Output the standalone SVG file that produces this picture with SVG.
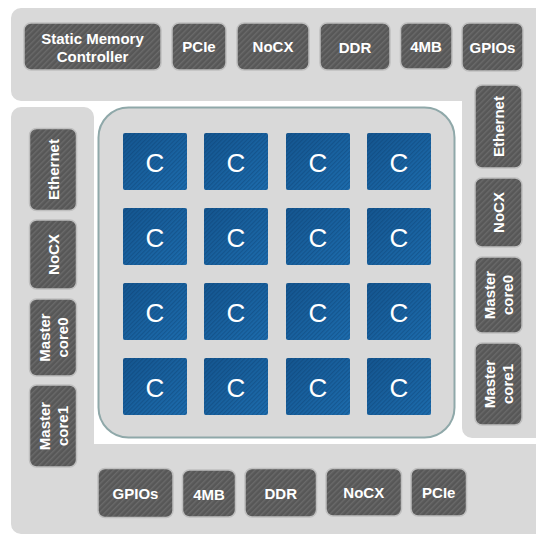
<svg xmlns="http://www.w3.org/2000/svg" width="536" height="534" viewBox="0 0 536 534">
<defs>
<pattern id="hatch" width="4" height="4" patternUnits="userSpaceOnUse" patternTransform="rotate(45)">
<rect width="4" height="4" fill="#575757"/>
<rect width="1.4" height="4" fill="#6a6a6a"/>
</pattern>
<linearGradient id="blueg" x1="0" y1="0" x2="1" y2="1">
<stop offset="0" stop-color="#145690"/>
<stop offset="1" stop-color="#1d6dae"/>
</linearGradient>
<pattern id="bhatch" width="3" height="3" patternUnits="userSpaceOnUse" patternTransform="rotate(45)">
<rect width="1.2" height="3" fill="#0a3a66" fill-opacity="0.35"/>
</pattern>
</defs>
<style>
.panel{fill:#d9d9d9}
.box{fill:url(#hatch);stroke:#bfbfbf;stroke-width:1.5}
.lbl{fill:#ffffff;font-family:"Liberation Sans",Arial,sans-serif;font-weight:bold;font-size:15px;text-anchor:middle}
.tile{fill:url(#blueg)}
.tileh{fill:url(#bhatch)}
.c{fill:#ffffff;font-family:"Liberation Sans",Arial,sans-serif;font-size:26px;text-anchor:middle}
</style>
<rect width="536" height="534" fill="#ffffff"/>
<g id="panels">
<path class="panel" d="M21 8H536V438H472A10 10 0 0 1 462 428V101H21A10 10 0 0 1 11 91V18A10 10 0 0 1 21 8Z"/>
<path class="panel" d="M21 107H84A10 10 0 0 1 94 117V444H536V534H21A10 10 0 0 1 11 524V117A10 10 0 0 1 21 107Z"/>
<rect x="98.5" y="107.5" width="356" height="330" rx="30" fill="#d9d9d9" stroke="#8fa8a9" stroke-width="2"/>
</g>
<g id="top-smc"><rect class="box" x="24" y="23" width="137" height="47" rx="7"/><text class="lbl" x="92.5" y="44">Static Memory</text><text class="lbl" x="92.5" y="62">Controller</text></g>
<g id="top-pcie"><rect class="box" x="172" y="23" width="54" height="47" rx="7"/><text class="lbl" x="199" y="52">PCIe</text></g>
<g id="top-nocx"><rect class="box" x="237" y="23" width="72" height="47" rx="7"/><text class="lbl" x="273" y="52">NoCX</text></g>
<g id="top-ddr"><rect class="box" x="320" y="23" width="70" height="47" rx="7"/><text class="lbl" x="355" y="53">DDR</text></g>
<g id="top-4mb"><rect class="box" x="400.5" y="23" width="51.5" height="46" rx="7"/><text class="lbl" x="426" y="52">4MB</text></g>
<g id="top-gpios"><rect class="box" x="462" y="23" width="61" height="48" rx="7"/><text class="lbl" x="492.5" y="53">GPIOs</text></g>

<g id="right-ethernet"><rect class="box" x="475" y="85" width="47" height="83" rx="7"/><text class="lbl" transform="translate(498.5 126.5) rotate(-90)" y="5.5">Ethernet</text></g>
<g id="right-nocx"><rect class="box" x="475" y="178" width="47" height="69" rx="7"/><text class="lbl" transform="translate(498.5 212.5) rotate(-90)" y="5.5">NoCX</text></g>
<g id="right-master0"><rect class="box" x="475" y="257" width="47" height="76" rx="7"/><text class="lbl" transform="translate(498.5 295) rotate(-90)"><tspan x="0" y="-3.5">Master</tspan><tspan x="0" y="14.5">core0</tspan></text></g>
<g id="right-master1"><rect class="box" x="475" y="343" width="47" height="82" rx="7"/><text class="lbl" transform="translate(498.5 384) rotate(-90)"><tspan x="0" y="-3.5">Master</tspan><tspan x="0" y="14.5">core1</tspan></text></g>

<g id="left-ethernet"><rect class="box" x="29.5" y="128.5" width="47" height="82" rx="7"/><text class="lbl" transform="translate(53 169.5) rotate(-90)" y="5.5">Ethernet</text></g>
<g id="left-nocx"><rect class="box" x="29.5" y="220" width="47" height="69" rx="7"/><text class="lbl" transform="translate(53 254.5) rotate(-90)" y="5.5">NoCX</text></g>
<g id="left-master0"><rect class="box" x="29.5" y="299" width="47" height="77" rx="7"/><text class="lbl" transform="translate(53 337.5) rotate(-90)"><tspan x="0" y="-3.5">Master</tspan><tspan x="0" y="14.5">core0</tspan></text></g>
<g id="left-master1"><rect class="box" x="29.5" y="385" width="47" height="82" rx="7"/><text class="lbl" transform="translate(53 426) rotate(-90)"><tspan x="0" y="-3.5">Master</tspan><tspan x="0" y="14.5">core1</tspan></text></g>

<g id="bottom-gpios"><rect class="box" x="98" y="468.5" width="75" height="49" rx="7"/><text class="lbl" x="135.5" y="498.5">GPIOs</text></g>
<g id="bottom-4mb"><rect class="box" x="182.5" y="470" width="53" height="47" rx="7"/><text class="lbl" x="209" y="499.5">4MB</text></g>
<g id="bottom-ddr"><rect class="box" x="245" y="468.5" width="71.5" height="48.5" rx="7"/><text class="lbl" x="280.75" y="498.5">DDR</text></g>
<g id="bottom-nocx"><rect class="box" x="326" y="468.5" width="75.5" height="47.5" rx="7"/><text class="lbl" x="363.75" y="497.5">NoCX</text></g>
<g id="bottom-pcie"><rect class="box" x="411" y="468.5" width="55.5" height="47.5" rx="7"/><text class="lbl" x="438.75" y="497.5">PCIe</text></g>

<g id="c-0-0"><rect class="tile" x="123" y="133" width="64" height="57" rx="2"/><rect class="tileh" x="123" y="133" width="64" height="57" rx="2"/><text class="c" x="155" y="171.5">C</text></g>
<g id="c-0-1"><rect class="tile" x="204" y="133" width="64" height="57" rx="2"/><rect class="tileh" x="204" y="133" width="64" height="57" rx="2"/><text class="c" x="236" y="171.5">C</text></g>
<g id="c-0-2"><rect class="tile" x="286" y="133" width="64" height="57" rx="2"/><rect class="tileh" x="286" y="133" width="64" height="57" rx="2"/><text class="c" x="318" y="171.5">C</text></g>
<g id="c-0-3"><rect class="tile" x="367" y="133" width="64" height="57" rx="2"/><rect class="tileh" x="367" y="133" width="64" height="57" rx="2"/><text class="c" x="399" y="171.5">C</text></g>
<g id="c-1-0"><rect class="tile" x="123" y="208" width="64" height="57" rx="2"/><rect class="tileh" x="123" y="208" width="64" height="57" rx="2"/><text class="c" x="155" y="246.5">C</text></g>
<g id="c-1-1"><rect class="tile" x="204" y="208" width="64" height="57" rx="2"/><rect class="tileh" x="204" y="208" width="64" height="57" rx="2"/><text class="c" x="236" y="246.5">C</text></g>
<g id="c-1-2"><rect class="tile" x="286" y="208" width="64" height="57" rx="2"/><rect class="tileh" x="286" y="208" width="64" height="57" rx="2"/><text class="c" x="318" y="246.5">C</text></g>
<g id="c-1-3"><rect class="tile" x="367" y="208" width="64" height="57" rx="2"/><rect class="tileh" x="367" y="208" width="64" height="57" rx="2"/><text class="c" x="399" y="246.5">C</text></g>
<g id="c-2-0"><rect class="tile" x="123" y="283" width="64" height="57" rx="2"/><rect class="tileh" x="123" y="283" width="64" height="57" rx="2"/><text class="c" x="155" y="321.5">C</text></g>
<g id="c-2-1"><rect class="tile" x="204" y="283" width="64" height="57" rx="2"/><rect class="tileh" x="204" y="283" width="64" height="57" rx="2"/><text class="c" x="236" y="321.5">C</text></g>
<g id="c-2-2"><rect class="tile" x="286" y="283" width="64" height="57" rx="2"/><rect class="tileh" x="286" y="283" width="64" height="57" rx="2"/><text class="c" x="318" y="321.5">C</text></g>
<g id="c-2-3"><rect class="tile" x="367" y="283" width="64" height="57" rx="2"/><rect class="tileh" x="367" y="283" width="64" height="57" rx="2"/><text class="c" x="399" y="321.5">C</text></g>
<g id="c-3-0"><rect class="tile" x="123" y="358" width="64" height="57" rx="2"/><rect class="tileh" x="123" y="358" width="64" height="57" rx="2"/><text class="c" x="155" y="396.5">C</text></g>
<g id="c-3-1"><rect class="tile" x="204" y="358" width="64" height="57" rx="2"/><rect class="tileh" x="204" y="358" width="64" height="57" rx="2"/><text class="c" x="236" y="396.5">C</text></g>
<g id="c-3-2"><rect class="tile" x="286" y="358" width="64" height="57" rx="2"/><rect class="tileh" x="286" y="358" width="64" height="57" rx="2"/><text class="c" x="318" y="396.5">C</text></g>
<g id="c-3-3"><rect class="tile" x="367" y="358" width="64" height="57" rx="2"/><rect class="tileh" x="367" y="358" width="64" height="57" rx="2"/><text class="c" x="399" y="396.5">C</text></g>
</svg>
